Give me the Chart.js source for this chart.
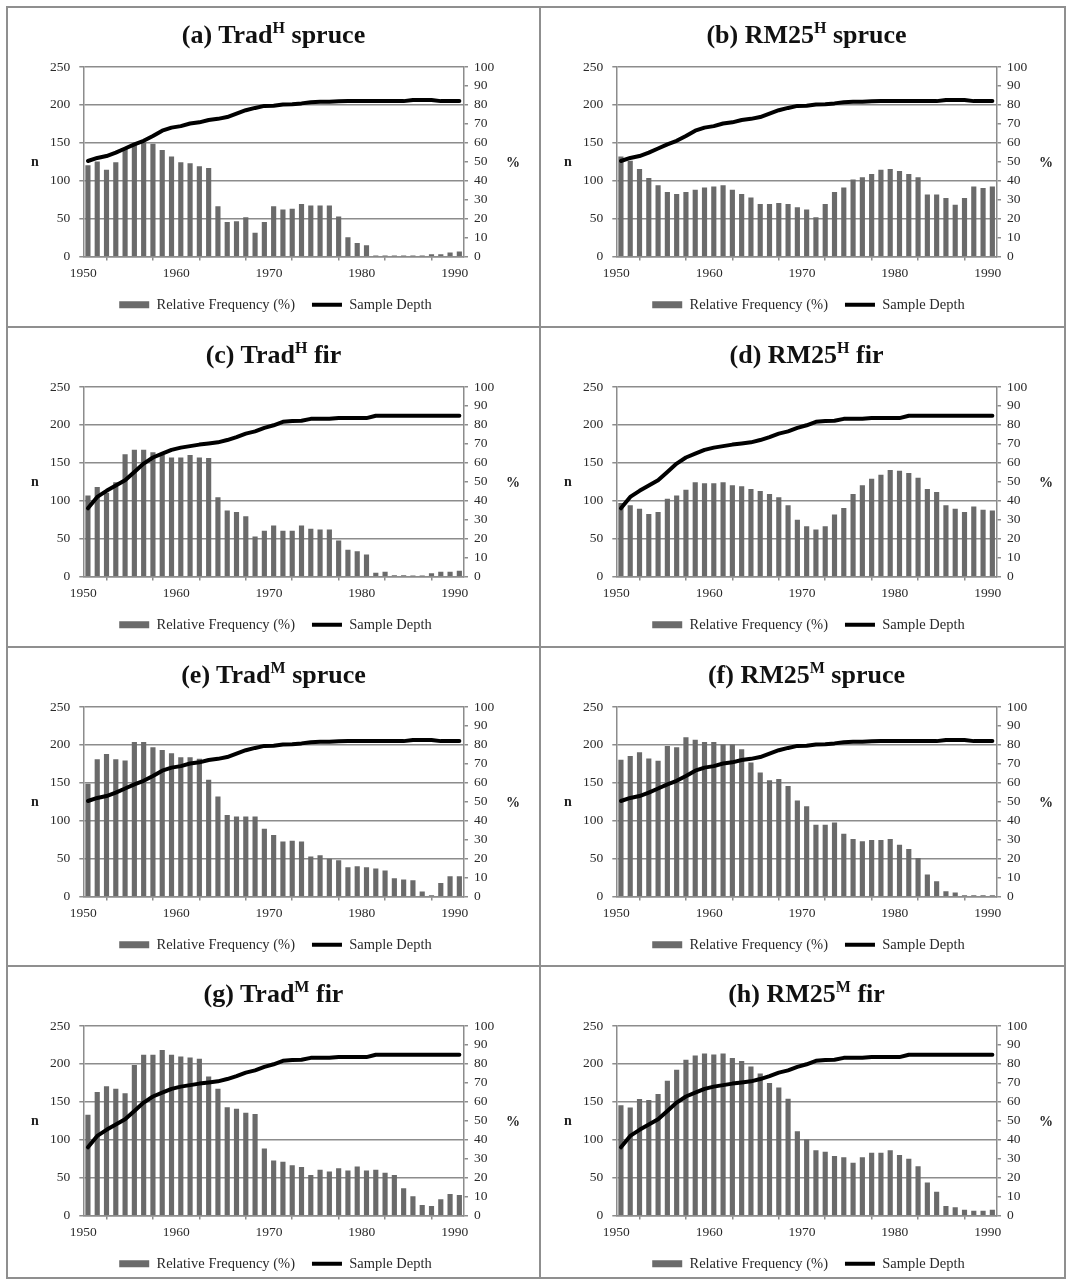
<!DOCTYPE html>
<html>
<head>
<meta charset="utf-8">
<script src="https://cdn.jsdelivr.net/npm/chart.js@4/dist/chart.umd.min.js"></script>
<style>
  html, body { margin: 0; padding: 0; background: #fff; }
  body { width: 1066px; height: 1279px; position: relative; overflow: hidden; font-family: 'Liberation Serif', 'Times New Roman', serif; }
  .panel { position: absolute; width: 533px; height: 320px; }
  .panel canvas { position: absolute; left: 0; top: 0; }
  .title { position: absolute; left: 0; width: 547px; top: 19px; text-align: center; font-weight: bold; font-size: 26px; color: #111; line-height: 32px; white-space: nowrap; }
  .title sup { font-size: 16px; vertical-align: 0; position: relative; top: -10px; }
  .ax { position: absolute; font-weight: bold; font-size: 14px; color: #222; transform: translate(-50%, -50%); }
  .rule { position: absolute; background: #8f8f8f; }
</style>
</head>
<body>
<script>
// ---------- data ----------
const years = [1950,1951,1952,1953,1954,1955,1956,1957,1958,1959,
               1960,1961,1962,1963,1964,1965,1966,1967,1968,1969,
               1970,1971,1972,1973,1974,1975,1976,1977,1978,1979,
               1980,1981,1982,1983,1984,1985,1986,1987,1988,1989,1990];

const leftTicks = [0, 50, 100, 150, 200, 250];
const rightTicks = [0, 10, 20, 30, 40, 50, 60, 70, 80, 90, 100];
const xTickLabels = [1950, 1960, 1970, 1980, 1990];

const depthSpruce = [126,130,132.5,137,142.5,148,152.6,159,166,170,
                     172,175.4,177,180,181.6,184,188.6,193,196,198.7,
                     199,200.4,201,202,203.5,204,204,204.8,205,205,
                     205,205,205,205,205,206.6,206.6,206.6,205,205,205];
const depthFir = [90,105,113,120,127,138,149,157,162,167,
                  170,172,174,175.5,177,180,184,188.5,191.5,196,
                  199.5,204,205,205.5,208,208,208,209,209,209,
                  209,212,212,212,212,212,212,212,212,212,212];

const freqA = [48,50,45.6,49.6,57,58.8,60,59.3,56,52.6,
               49.6,49,47.4,46.5,26.3,18,18.4,20.5,12.3,18,
               26.3,24.6,25,27.5,26.8,26.8,26.8,21,10,7,
               5.8,0.3,0.3,0.3,0.3,0.3,0.3,1,1,2,2.5];
const freqB = [52.6,50.3,46,41.2,37.4,33.9,32.8,33.9,35,36.3,
               36.8,37.4,35,32.8,31,27.5,27.5,28,27.5,25.8,
               24.6,20.5,27.5,33.9,36.3,40.4,41.6,43.3,45.6,46,
               45,43.3,41.6,32.5,32.5,30.7,27.2,30.7,36.8,36,36.8];
const freqC = [42.6,47,44,49.6,64.4,66.7,66.7,65.4,64,62.6,
               62.6,64,62.6,62.3,41.6,34.6,33.9,31.6,21,24,
               26.8,24,24,26.8,25,24.6,24.6,18.8,14,13.2,
               11.4,1.8,2.3,0.5,0.5,0.3,0.3,1.5,2.3,2.3,2.8];
const freqD = [38.6,37.4,35.6,32.8,33.9,40.9,42.6,45.6,49.6,49,
               49,49.6,48,47.4,46,45,43.3,41.6,37.4,29.8,
               26.3,24.6,26.3,32.5,36,43.3,48,51.4,53.5,56,
               55.6,54.4,52,46,44.4,37.4,35.6,33.9,36.8,35,34.6];
const freqE = [59.3,72.3,75,72.3,71.6,81.4,81.4,78.6,77.2,75.4,
               73.3,73.3,72.5,61.4,52.6,42.8,42,42,42,35.6,
               32.3,28.8,29.3,28.8,21,21.6,19.8,19,15.3,15.8,
               15.3,14.6,13.5,9.5,8.8,8.4,2.5,0.5,7,10.5,10.5];
const freqF = [72,74,76,72.6,71.4,79.3,78.6,83.9,82.6,81.4,
               81.4,80,80,77.5,70.5,65.3,61.2,61.8,58.2,50.5,
               47.4,37.7,37.7,38.9,33,30.2,29,29.6,29.6,30.2,
               27.2,24.9,20.2,11.4,7.9,2.6,1.9,0.5,0.5,0.5,0.5];
const freqG = [53,65,68,66.7,64.4,79.3,84.6,84.6,87.2,84.6,
               83.7,83.2,82.5,73.2,66.7,56.9,56.2,54,53.4,35.2,
               28.9,28.2,26.4,25.4,21.2,24,23.1,24.7,23.6,25.7,
               23.6,24,22.4,21.2,14.2,10,5.4,4.9,8.4,11.2,10.7];
const freqH = [58,56.8,61.3,60.8,64,71,76.7,82,84.2,85.3,
               84.8,85.3,83,81.4,78.5,74.8,69.7,67.4,61.5,44.3,
               39.9,34.2,33.5,31.2,30.6,27.7,30.6,32.9,32.9,34.2,
               31.7,29.8,25.8,17.2,12.4,4.9,4.2,2.8,2.3,2.3,2.8];

const panelLetters = ['a','b','c','d','e','f','g','h'];
const panelMethods = ['Trad','RM25','Trad','RM25','Trad','RM25','Trad','RM25'];
const panelSups = ['H','H','H','H','M','M','M','M'];
const panelSpecies = ['spruce','spruce','fir','fir','spruce','spruce','fir','fir'];
const panelFreqs = [freqA, freqB, freqC, freqD, freqE, freqF, freqG, freqH];
const panelDepths = [depthSpruce, depthSpruce, depthFir, depthFir, depthSpruce, depthSpruce, depthFir, depthFir];

const legendBar = 'Relative Frequency (%)';
const legendLine = 'Sample Depth';

// ---------- layout / style ----------
const colLeft = [0, 533];
const rowTop = [0, 320, 640, 959];
const GRID = '#8c8c8c';
const BAR = '#6a6a6a';
const FONT = "'Liberation Serif', 'Times New Roman', serif";
const SHIFT = 0.5;

Chart.defaults.font.family = FONT;
Chart.defaults.font.size = 13.5;
Chart.defaults.color = '#2a2a2a';

// panel rules
function rule(l, t, w, h) {
  const d = document.createElement('div');
  d.className = 'rule';
  d.style.left = l + 'px'; d.style.top = t + 'px';
  d.style.width = w + 'px'; d.style.height = h + 'px';
  document.body.appendChild(d);
}
[6, 326, 646, 965, 1277].forEach(y => rule(6, y, 1060, 2));
[6, 539, 1064].forEach(x => rule(x, 6, 2, 1273));

panelLetters.forEach((letter, i) => {
  const col = i % 2, row = Math.floor(i / 2);
  const panel = document.createElement('div');
  panel.className = 'panel';
  panel.style.left = colLeft[col] + 'px';
  panel.style.top = rowTop[row] + 'px';
  document.body.appendChild(panel);

  const canvas = document.createElement('canvas');
  canvas.width = 533; canvas.height = 320;
  panel.appendChild(canvas);

  const title = document.createElement('div');
  title.className = 'title';
  title.innerHTML = '(' + letter + ') ' + panelMethods[i] + '<sup>' + panelSups[i] + '</sup> ' + panelSpecies[i];
  panel.appendChild(title);

  const n = document.createElement('div');
  n.className = 'ax'; n.textContent = 'n';
  n.style.left = '35px'; n.style.top = '162px';
  panel.appendChild(n);
  const pc = document.createElement('div');
  pc.className = 'ax'; pc.textContent = '%';
  pc.style.left = '513px'; pc.style.top = '163px';
  panel.appendChild(pc);

  const freq = panelFreqs[i], depth = panelDepths[i];

  new Chart(canvas, {
    type: 'bar',
    data: {
      datasets: [
        {
          type: 'bar',
          label: legendBar,
          data: years.map((y, k) => ({ x: y + SHIFT, y: freq[k] })),
          backgroundColor: BAR,
          borderWidth: 0,
          barThickness: 4.5,
          yAxisID: 'y1',
          pointStyle: 'rect',
          order: 2
        },
        {
          type: 'line',
          label: legendLine,
          data: years.map((y, k) => ({ x: y + SHIFT, y: depth[k] })),
          borderColor: '#000',
          backgroundColor: '#000',
          borderWidth: 4,
          pointRadius: 0,
          tension: 0,
          borderJoinStyle: 'round',
          borderCapStyle: 'round',
          yAxisID: 'y',
          pointStyle: 'line',
          order: 1
        }
      ]
    },
    options: {
      responsive: false,
      animation: false,
      devicePixelRatio: 1,
      layout: { padding: { top: 67, left: 18, right: 0, bottom: -2 } },
      plugins: {
        tooltip: { enabled: false },
        legend: {
          position: 'bottom',
          labels: {
            usePointStyle: true,
            pointStyleWidth: 30,
            boxHeight: 7,
            padding: 17,
            color: '#2a2a2a',
            font: { size: 14.5, family: FONT },
            sort: (a, b) => a.datasetIndex - b.datasetIndex
          }
        }
      },
      scales: {
        x: {
          type: 'linear',
          min: 1950,
          max: 1991,
          offset: false,
          afterFit: s => { s.height = 24; },
          grid: { drawOnChartArea: false, drawTicks: true, tickLength: 4, color: GRID, lineWidth: 1.5 },
          border: { color: GRID, width: 1.5 },
          ticks: {
            stepSize: 5,
            includeBounds: false,
            autoSkip: false,
            maxRotation: 0,
            padding: 5,
            callback: v => (xTickLabels.includes(v) ? String(v) : '')
          }
        },
        y: {
          position: 'left',
          min: leftTicks[0],
          max: leftTicks[leftTicks.length - 1],
          afterFit: s => { s.width = 65.3; },
          afterBuildTicks: s => { s.ticks = leftTicks.map(v => ({ value: v })); },
          grid: { color: GRID, lineWidth: 1.5, tickLength: 4 },
          border: { color: GRID, width: 1.5 },
          ticks: { padding: 9, autoSkip: false }
        },
        y1: {
          position: 'right',
          min: rightTicks[0],
          max: rightTicks[rightTicks.length - 1],
          afterFit: s => { s.width = 69; },
          afterBuildTicks: s => { s.ticks = rightTicks.map(v => ({ value: v })); },
          grid: { drawOnChartArea: false, color: GRID, lineWidth: 1.5, tickLength: 4 },
          border: { color: GRID, width: 1.5 },
          ticks: { padding: 6, autoSkip: false }
        }
      }
    }
  });
});
</script>
</body>
</html>
